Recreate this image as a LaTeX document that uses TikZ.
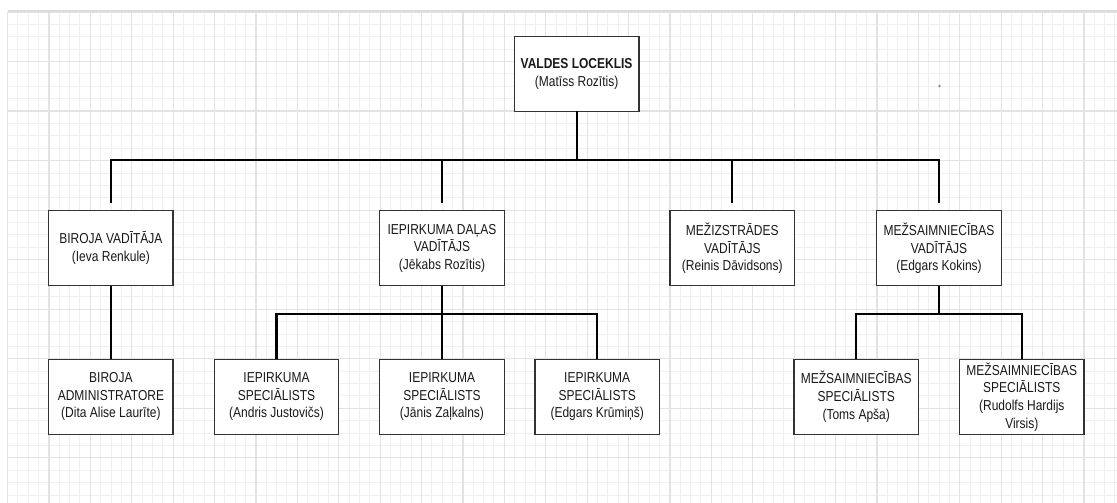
\documentclass[tikz,border=0pt]{standalone}
\usepackage{fontspec}
\setmainfont{Liberation Sans}
\usepackage{xcolor}

\begin{document}
\begin{tikzpicture}[x=1pt, y=-1pt,
    box/.style={draw=black!80, line width=1.4pt, fill=white, align=center,
        minimum width=124.5pt, minimum height=62.5pt, inner sep=0pt, outer sep=0pt,
        yscale=1.2, transform shape, text=black!90,
        font=\fontsize{12}{14.7}\selectfont},
    link/.style={line width=2.2pt, black},
    gridminor/.style={line width=1pt, black!6},
    gridmajor/.style={line width=1.2pt, black!11}]

        \useasboundingbox (0,0) rectangle (1117,503);

        % 1. 背景的格線
        \foreach \i in {0,...,107} {
            \draw[gridminor] ({7.5+\i*10.35},12) -- ({7.5+\i*10.35},503);
        }
        \foreach \j in {0,...,39} {
            \draw[gridminor] (7.5,{12+\j*12.385}) -- (1117,{12+\j*12.385});
        }
        \foreach \i in {0,...,26} {
            \draw[gridmajor] ({7.5+\i*41.4},12) -- ({7.5+\i*41.4},503);
        }
        \foreach \j in {0,...,9} {
            \draw[gridmajor] (7.5,{12+\j*49.54}) -- (1117,{12+\j*49.54});
        }
        \draw[black!14, line width=2pt] (7.5,10.6) -- (1117,10.6);
        \fill[black!45] (939.4,86) circle (1.4);

        % 2. 最上層
        \node[box] (valde) at (576.6,73.9) {\textbf{VALDES LOCEKLIS}\\(Matīss Rozītis)};

        % 3. 第二層 (vadītāji)
        \node[box] (birojaVad)   at (110.9,248.2) {BIROJA VADĪTĀJA\\(Ieva Renkule)};
        \node[box] (iepirkVad)   at (442,248.2)   {IEPIRKUMA DAĻAS\\VADĪTĀJS\\(Jēkabs Rozītis)};
        \node[box] (mezizstrVad) at (732.3,248.2) {MEŽIZSTRĀDES\\VADĪTĀJS\\(Reinis Dāvidsons)};
        \node[box] (mezsaimVad)  at (939,248.2)   {MEŽSAIMNIECĪBAS\\VADĪTĀJS\\(Edgars Kokins)};

        % 4. 第三層 (speciālisti)
        \node[box] (birojaAdm)  at (110.9,396.8) {BIROJA\\ADMINISTRATORE\\(Dita Alise Laurīte)};
        \node[box] (iepirkSpA)  at (276.5,396.8) {IEPIRKUMA\\SPECIĀLISTS\\(Andris Justovičs)};
        \node[box] (iepirkSpB)  at (442,396.8)   {IEPIRKUMA\\SPECIĀLISTS\\(Jānis Zaļkalns)};
        \node[box] (iepirkSpC)  at (597.2,396.8) {IEPIRKUMA\\SPECIĀLISTS\\(Edgars Krūmiņš)};
        \node[box] (mezsaimSpA) at (856.2,396.8) {MEŽSAIMNIECĪBAS\\SPECIĀLISTS\\(Toms Apša)};
        \node[box] (mezsaimSpB) at (1021.8,396.8) {MEŽSAIMNIECĪBAS\\SPECIĀLISTS\\(Rudolfs Hardijs\\Virsis)};

        % 5. 連接線
        \coordinate (busTop)     at (576.6,160.3);
        \coordinate (busIepirk)  at (442,314.3);
        \coordinate (busMezsaim) at (939,314.3);

        \draw[link] (valde.south) -- (busTop);
        \foreach \n in {birojaVad, iepirkVad, mezizstrVad, mezsaimVad} {
            \draw[link, shorten >=7.4pt] (busTop) -| (\n.north);
        }

        \draw[link] (birojaVad.south) -- (birojaAdm.north);

        \draw[link] (iepirkVad.south) -- (busIepirk);
        \foreach \n in {iepirkSpA, iepirkSpB, iepirkSpC} {
            \draw[link] (busIepirk) -| (\n.north);
        }

        \draw[link] (mezsaimVad.south) -- (busMezsaim);
        \foreach \n in {mezsaimSpA, mezsaimSpB} {
            \draw[link] (busMezsaim) -| (\n.north);
        }

    \end{tikzpicture}
\end{document}
